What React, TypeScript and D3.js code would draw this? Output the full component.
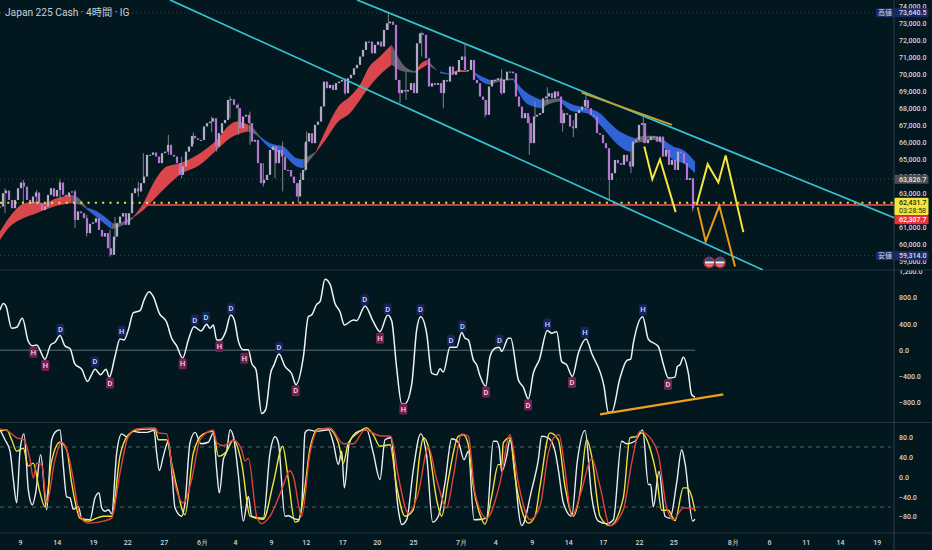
import React, { useEffect, useRef } from 'react';
import * as d3 from 'd3';

type Pt = [number, number];
type Band = [number, number, number];

const UI_FONT = 'Roboto, sans-serif';
const BG = '#03171f';

// x is counted in trading hours since the left edge of the window
const lastHour = 2682;
const timeTicks: [number, string][] = [
  [60, '9'], [170, '14'], [279, '19'], [382, '22'], [491, '27'], [606, '6月'], [705, '4'], [813, '9'],
  [917, '12'], [1027, '17'], [1130, '20'], [1239, '25'], [1383, '7月'], [1486, '4'], [1595, '9'],
  [1705, '14'], [1808, '17'], [1917, '22'], [2020, '25'], [2198, '8月'], [2307, '6'], [2417, '11'],
  [2520, '14'], [2630, '19'],
];

// price in thousands
const priceTicks = [74, 73, 72, 71, 70, 69, 68, 67, 66, 65, 64, 63, 61, 60, 59];
const highPrice = 73.6405;
const lowPrice = 59.314;
const prevClose = 63.8267;
const bidPrice = 62.4317;
const askPrice = 62.3077;

// one close every candleStep hours
const candleStep = 9;
const candleCloses = [
  62.21, 63.0, 63.15, 62.6, 62.11, 62.6, 63.29, 63.63, 63.39, 62.6, 62.41, 62.8, 63.04, 62.41, 62.01, 62.21,
  62.9, 63.29, 62.8, 63.19, 63.63, 62.9, 62.8, 63.04, 63.1, 61.42, 61.92, 61.82, 61.52, 60.64, 61.19, 61.27,
  61.52, 60.83, 60.44, 60.64, 59.75, 59.36, 60.44, 61.23, 61.62, 61.82, 61.13, 61.82, 63.0, 63.29, 63.1, 63.59,
  63.98, 65.26, 65.26, 65.4, 65.16, 64.77, 65.36, 65.45, 65.85, 65.26, 65.16, 64.77, 64.08, 64.57, 65.45, 65.75,
  66.38, 66.24, 66.14, 66.14, 66.93, 67.13, 67.22, 67.42, 65.75, 66.54, 67.13, 67.32, 68.5, 68.54, 68.21, 68.01,
  66.83, 67.52, 67.62, 67.13, 66.04, 66.14, 64.77, 63.59, 63.78, 64.08, 65.55, 65.75, 64.77, 65.55, 65.16, 64.37,
  64.37, 63.98, 63.59, 62.8, 63.78, 64.37, 66.04, 66.54, 65.95, 67.03, 67.22, 68.11, 69.58, 69.19, 69.39, 69.09,
  69.49, 69.58, 69.68, 68.9, 69.78, 69.98, 70.37, 70.57, 71.06, 71.45, 71.94, 71.94, 71.25, 71.75, 71.94, 71.65,
  72.63, 73.02, 73.12, 72.93, 69.68, 68.9, 69.09, 69.0, 69.09, 69.49, 68.9, 71.84, 72.43, 72.34, 70.96, 69.29,
  69.49, 69.39, 69.49, 68.9, 69.68, 69.58, 70.47, 69.98, 70.17, 70.86, 71.06, 70.27, 70.27, 70.86, 69.68, 69.49,
  68.7, 68.5, 67.62, 69.29, 69.68, 69.68, 69.78, 68.9, 69.68, 70.17, 70.17, 70.07, 68.7, 68.11, 67.42, 67.72,
  67.13, 65.95, 67.52, 67.62, 67.72, 68.6, 68.7, 68.9, 68.6, 69.0, 68.7, 67.13, 67.72, 67.62, 66.93, 66.83,
  67.72, 67.91, 68.11, 68.5, 68.01, 67.62, 67.52, 66.54, 66.44, 65.95, 65.65, 63.78, 64.18, 64.96, 64.77, 64.67,
  65.26, 64.87, 64.57, 66.04, 66.14, 67.03, 67.13, 65.95, 66.14, 66.34, 66.34, 66.04, 66.34, 65.16, 65.55, 64.67,
  64.96, 64.37, 65.45, 65.36, 64.77, 63.78, 63.88, 62.11,
];
// the wicks that stand out: hour, high, low
const candleWicks: [number, number, number][] = [
  [15, 63.29, 61.82], [70, 63.78, 62.41], [110, 63.19, 62.3], [180, 63.82, 62.6], [225, 63.19, 60.93],
  [260, 61.72, 60.44], [330, 60.83, 59.26], [345, 61.6, 60.24], [415, 63.68, 62.8], [430, 65.36, 63.78],
  [505, 66.44, 65.26], [545, 65.16, 63.88], [580, 66.58, 65.9], [635, 67.52, 66.6], [650, 66.93, 65.45],
  [690, 68.7, 67.42], [715, 68.3, 66.44], [750, 67.81, 65.85], [790, 64.77, 63.39], [825, 65.75, 63.88],
  [848, 66.04, 63.1], [895, 63.59, 62.41], [915, 65.95, 64.28], [902, 64.2, 63.49], [920, 66.63, 64.77],
  [1035, 69.78, 68.8], [1165, 73.61, 72.63], [1200, 69.68, 68.31], [1218, 70.17, 68.5], [1265, 72.53, 71.06],
  [1330, 69.68, 68.01], [1395, 71.75, 70.27], [1455, 68.5, 67.48], [1505, 70.31, 68.8], [1588, 67.52, 65.26],
  [1605, 68.4, 67.42], [1642, 69.25, 68.3], [1688, 67.9, 66.63], [1720, 67.3, 66.3], [1758, 68.8, 67.9],
  [1828, 64.4, 62.6], [1893, 65.55, 64.18], [1930, 67.48, 65.95], [2078, 63.4, 61.92],
];

// ribbon between the two moving averages: hour, upper, lower
const ribbonRed: Band[][] = [
  [[0, 60.74, 60.24], [30, 61.62, 61.03], [70, 62.37, 61.52], [110, 62.51, 61.82], [130, 62.41, 61.97], [170, 62.7, 62.25], [215, 62.9, 62.41]],
  [[400, 61.62, 61.58], [430, 62.41, 62.01], [460, 63.59, 62.6], [500, 64.57, 63.39], [540, 64.77, 64.08], [600, 65.36, 64.67], [650, 66.14, 65.55], [690, 67.03, 66.24], [710, 67.22, 66.44], [745, 67.03, 66.63]],
  [[948, 65.45, 65.4], [980, 66.83, 66.24], [1015, 68.11, 67.22], [1050, 68.7, 67.72], [1080, 69.39, 68.5], [1105, 70.37, 69.19], [1140, 71.06, 69.98], [1175, 71.75, 70.57]],
  [[1245, 70.17, 70.11], [1265, 70.7, 70.37], [1282, 70.86, 70.57]],
  [[1350, 70.04, 69.98], [1380, 70.27, 70.15], [1405, 70.21, 70.15]],
];
const ribbonBlue: Band[][] = [
  [[260, 62.15, 62.05], [300, 61.82, 61.42], [335, 61.27, 60.87]],
  [[780, 66.34, 66.24], [810, 65.95, 65.65], [850, 65.75, 65.26], [890, 65.06, 64.57], [910, 65.0, 64.47]],
  [[1320, 70.17, 70.07], [1350, 70.04, 69.98]],
  [[1420, 70.17, 70.11], [1445, 69.88, 69.58], [1470, 69.68, 69.39]],
  [[1540, 69.78, 69.68], [1570, 69.09, 68.5], [1600, 68.7, 68.11], [1625, 68.5, 68.01]],
  [[1680, 68.6, 68.4], [1720, 68.21, 67.81], [1760, 68.01, 67.72], [1800, 67.72, 67.03], [1830, 67.13, 66.34], [1860, 66.63, 65.75], [1890, 66.34, 65.45], [1905, 66.24, 65.95]],
  [[1985, 66.24, 65.95], [2020, 65.75, 64.96], [2050, 65.55, 64.77], [2085, 64.87, 64.18]],
];
const ribbonGrey: Band[][] = [
  [[215, 62.9, 62.41], [240, 62.64, 62.31], [260, 62.15, 62.05]],
  [[335, 61.27, 60.87], [345, 61.19, 60.93], [380, 61.42, 61.23], [400, 61.62, 61.52]],
  [[745, 67.03, 66.63], [760, 66.83, 66.54], [780, 66.34, 66.24]],
  [[910, 65.0, 64.47], [948, 65.45, 65.4]],
  [[1175, 71.75, 70.57], [1210, 70.57, 70.17], [1245, 70.17, 70.11]],
  [[1282, 70.86, 70.57], [1310, 70.27, 70.23]],
  [[1470, 69.68, 69.39], [1500, 69.72, 69.58], [1540, 69.78, 69.68]],
  [[1625, 68.5, 68.01], [1650, 68.54, 68.27], [1680, 68.6, 68.4]],
  [[1905, 66.24, 65.95], [1935, 66.38, 66.04], [1960, 66.38, 66.14], [1985, 66.24, 65.95]],
];

// drawings on the price pane
const channelUpper: Pt[] = [[1071, 74.4], [2682, 61.55]];
const channelLower: Pt[] = [[510, 74.4], [2289, 58.47]];
const resistanceLine: Pt[] = [[1745, 68.93], [2016, 67.03]];
const yellowPathA: Pt[] = [[1933, 65.75], [1957, 63.82], [1980, 65.0], [2027, 61.88]];
const yellowPathB: Pt[] = [[2090, 62.31], [2123, 64.71], [2155, 63.63], [2177, 65.22], [2230, 60.7]];
const orangePath: Pt[] = [[2093, 62.17], [2117, 60.15], [2158, 62.25], [2205, 58.67]];
const eventHours = [2128, 2160];
const eventPrice = 58.91;

// oscillator pane
const oscTicks = [1200, 800, 400, 0, -400, -800];
const oscLine: Pt[] = [
  [0, 612], [10, 713], [18, 673], [35, 334], [50, 349], [67, 486], [85, 132], [98, 66], [110, 81], [135, -137],
  [152, 81], [165, 121], [180, 223], [195, 66], [210, 25], [225, -213], [245, -289], [263, -476], [272, -400],
  [285, -289], [302, -374], [318, -289], [328, -410], [345, -96], [360, 172], [372, 157], [385, 309], [400, 572],
  [420, 602], [432, 764], [447, 891], [460, 815], [478, 562], [500, 425], [515, 182], [530, 66], [548, -121],
  [565, 157], [582, 359], [603, 293], [620, 395], [630, 334], [640, 385], [650, 157], [662, 157], [677, 283],
  [692, 536], [703, 460], [715, 142], [730, 5], [745, 5], [755, -197], [768, -299], [785, -966], [797, -906],
  [812, -349], [822, -223], [837, -56], [855, -248], [875, -359], [888, -526], [910, -106], [925, 511], [935, 536],
  [950, 698], [960, 739], [975, 1083], [990, 1007], [1005, 713], [1020, 587], [1033, 385], [1060, 460], [1070, 450],
  [1095, 673], [1120, 435], [1140, 283], [1163, 536], [1175, 450], [1190, -273], [1205, -815], [1215, -815],
  [1235, -526], [1250, 309], [1262, 511], [1280, 258], [1295, -349], [1310, -374], [1320, -283], [1330, -334],
  [1350, 46], [1370, 46], [1385, 268], [1395, 182], [1405, 157], [1420, -147], [1430, -223], [1440, -390],
  [1457, -552], [1470, -96], [1485, 30], [1498, 46], [1505, -20], [1525, 182], [1532, 182], [1555, -450],
  [1570, -562], [1585, -744], [1600, -349], [1618, -147], [1642, 299], [1655, 258], [1670, 283], [1685, -172],
  [1700, -223], [1717, -400], [1735, -46], [1758, 172], [1775, -46], [1812, -552], [1825, -946], [1835, -946],
  [1860, -425], [1880, -157], [1892, -137], [1900, 106], [1928, 511], [1945, 167], [1975, 56], [1990, -213],
  [2005, -425], [2025, -410], [2032, -248], [2040, -223], [2050, -106], [2065, -349], [2075, -678], [2085, -713],
];
const oscZeroEnd = 2085;
const oscTrend: Pt[] = [[1800, -977], [2170, -673]];
const oscLabelsHigh: [number, number, string][] = [
  [181, 314, 'D'], [285, -177, 'D'], [365, 288, 'H'], [584, 460, 'D'], [618, 501, 'D'], [693, 633, 'D'], [837, 40, 'D'],
  [1094, 769, 'D'], [1163, 627, 'D'], [1261, 617, 'D'], [1353, 152, 'D'], [1387, 369, 'D'], [1498, 152, 'D'],
  [1642, 400, 'H'], [1755, 273, 'H'], [1929, 617, 'H'],
];
const oscLabelsLow: [number, number, string][] = [
  [100, -30, 'H'], [136, -233, 'H'], [330, -501, 'D'], [548, -207, 'H'], [658, 56, 'H'], [733, -121, 'H'], [887, -617, 'D'],
  [1140, 182, 'H'], [1210, -896, 'H'], [1458, -638, 'D'], [1584, -835, 'D'], [1716, -491, 'D'], [2004, -521, 'D'],
];

// stochastic pane
const stochTicks = [80, 40, 0, -40, -80];
const stochBands = [60.5, -60.5];
const stochK: Pt[] = [
  [0, 95], [15, 75], [30, 52], [40, -5], [50, -52], [60, 52], [72, 87], [85, -26], [97, -56], [107, -32], [122, 45], [140, -66],
  [155, 75], [170, 93], [180, 95], [190, 22], [200, -40], [210, -42], [220, -65], [235, -60], [245, -84], [270, -86], [285, -42],
  [297, -32], [305, -62], [315, -69], [325, -66], [335, -74], [350, 48], [365, 87], [380, 81], [400, 92], [420, 90], [440, 90],
  [462, 94], [470, 48], [478, 13], [490, 42], [505, 72], [515, 15], [525, -62], [545, -79], [555, -52], [570, 69], [585, 90],
  [603, 67], [625, 70], [640, 89], [650, 15], [658, -32], [670, 35], [680, 52], [690, 95], [700, 82], [715, 5], [730, -89],
  [745, -39], [755, -79], [790, -83], [810, 48], [825, 81], [835, 69], [855, -79], [865, -78], [880, -83], [895, -86], [905, -59],
  [915, 89], [925, 95], [950, 92], [985, 95], [1000, 69], [1015, 25], [1025, 52], [1033, -22], [1048, 69], [1075, 92], [1100, 95],
  [1120, 48], [1140, -5], [1155, 75], [1172, 79], [1195, -66], [1205, -96], [1220, -86], [1240, 15], [1262, 87], [1280, 42],
  [1298, -91], [1315, -79], [1335, -12], [1355, 77], [1375, 70], [1392, 35], [1405, 52], [1422, -86], [1445, -85], [1460, -83],
  [1480, 72], [1490, 72], [1498, 58], [1505, 11], [1520, 42], [1530, 75], [1565, -98], [1595, -26], [1615, 35], [1625, 82],
  [1645, 79], [1665, 52], [1675, 15], [1690, -52], [1715, -79], [1732, 32], [1755, 94], [1775, -39], [1795, -89], [1820, -94],
  [1840, -86], [1865, 72], [1880, 67], [1905, 72], [1928, 95], [1945, -15], [1952, -15], [1960, -60], [1977, 11], [1995, -79],
  [2010, -83], [2030, -12], [2045, 55], [2055, 28], [2078, -89], [2085, -85],
];
const stochD: Pt[] = [
  [0, 92], [20, 95], [35, 75], [50, 52], [70, 58], [85, 22], [100, 28], [118, -26], [135, -60], [155, 32], [180, 70], [200, 55],
  [215, -12], [240, -83], [265, -89], [285, -84], [310, -79], [335, -79], [360, 42], [385, 85], [410, 95], [465, 97], [475, 75],
  [500, 75], [515, 28], [530, -19], [555, -76], [580, 48], [610, 87], [640, 92], [655, 42], [680, 52], [700, 75], [725, 28],
  [750, -79], [790, -85], [820, -12], [848, 62], [865, -5], [885, -91], [895, -89], [915, -19], [930, 58], [955, 97], [985, 97],
  [1015, 69], [1030, 28], [1045, 69], [1075, 90], [1100, 99], [1120, 85], [1140, 62], [1170, 65], [1190, -19], [1215, -79],
  [1240, -66], [1260, 48], [1270, 79], [1285, 62], [1310, -46], [1325, -79], [1345, -5], [1375, 82], [1390, 85], [1405, 65],
  [1420, -19], [1440, -76], [1455, -95], [1475, -39], [1495, 25], [1505, 25], [1510, 69], [1530, 79], [1545, 1], [1565, -66],
  [1585, -93], [1605, -79], [1620, -19], [1650, 89], [1675, 75], [1695, -19], [1720, -79], [1740, -32], [1760, 75], [1775, 42],
  [1800, -79], [1830, -98], [1870, -42], [1890, 79], [1910, 82], [1925, 89], [1950, 58], [1970, 1], [1985, -67], [2005, -67],
  [2025, -88], [2050, -22], [2060, -22], [2075, -39], [2085, -69],
];
const stochSlow: Pt[] = [
  [0, 97], [25, 92], [50, 79], [72, 75], [90, 35], [100, -2], [110, 28], [125, 25], [140, -52], [165, 35], [185, 70], [205, 45],
  [220, -5], [240, -79], [265, -93], [310, -89], [335, -83], [360, 8], [385, 82], [410, 97], [465, 99], [475, 89], [500, 87],
  [520, 1], [550, -52], [575, -5], [600, 75], [640, 95], [650, 69], [670, 63], [700, 74], [725, 55], [735, 32], [745, 38],
  [770, -79], [785, -94], [810, -79], [845, -26], [870, 13], [880, 1], [905, -79], [930, 48], [955, 95], [990, 99], [1030, 67],
  [1060, 67], [1095, 95], [1140, 83], [1172, 82], [1195, 1], [1225, -73], [1255, -32], [1285, 60], [1310, -5], [1340, -62],
  [1360, 1], [1385, 87], [1405, 82], [1425, -32], [1460, -83], [1500, -12], [1530, 85], [1555, -12], [1590, -86], [1620, -59],
  [1645, 48], [1665, 82], [1677, 85], [1695, 15], [1715, -79], [1745, -26], [1775, 38], [1800, -19], [1830, -98], [1870, -66],
  [1895, 28], [1920, 92], [1955, 75], [1975, 45], [2000, -62], [2020, -86], [2050, -62], [2085, -65],
];

const App: React.FC = () => {
  const svgRef = useRef<SVGSVGElement | null>(null);

  useEffect(() => {
    if (!svgRef.current) return;
    const width = 932;
    const height = 550;
    const axisX = 894;
    const mainBottom = 270;
    const oscBottom = 422.5;
    const stochBottom = 533;
    const labelSize = 7;

    const svg = d3.select(svgRef.current);
    svg.selectAll('*').remove();
    svg.attr('width', width).attr('height', height).style('display', 'block');
    svg.append('rect').attr('width', width).attr('height', height).attr('fill', BG);

    const x = d3.scaleLinear().domain([0, lastHour]).range([0, axisX]);
    const yPrice = d3.scaleLinear().domain([74, 60]).range([6.7, 244]);
    const yOsc = d3.scaleLinear().domain([800, -800]).range([297.7, 402.7]);
    const yStoch = d3.scaleLinear().domain([80, -80]).range([437.3, 516.7]);

    const styleAxis = (g: d3.Selection<SVGGElement, unknown, null, undefined>) => {
      g.select('.domain').remove();
      g.selectAll('.tick line').remove();
      g.selectAll('text')
        .attr('fill', '#cfd6da')
        .attr('font-family', UI_FONT)
        .attr('font-size', labelSize)
        .attr('font-weight', 500);
    };

    // oscillator axis goes first so the price pane can cover the top label
    svg.append('g').attr('transform', `translate(${axisX + 2},0)`)
      .call(d3.axisRight(yOsc).tickValues(oscTicks).tickSize(0).tickPadding(3).tickFormat(d => d3.format(',.1f')(+d).replace('-', '−')))
      .call(styleAxis);

    svg.append('rect').attr('width', width).attr('height', mainBottom).attr('fill', BG);

    svg.append('g').attr('transform', `translate(${axisX + 2},0)`)
      .call(d3.axisRight(yPrice).tickValues(priceTicks).tickSize(0).tickPadding(3).tickFormat(d => d3.format(',.1f')(+d * 1000)))
      .call(styleAxis);

    svg.append('g').attr('transform', `translate(${axisX + 2},0)`)
      .call(d3.axisRight(yStoch).tickValues(stochTicks).tickSize(0).tickPadding(3).tickFormat(d => d3.format('.1f')(+d).replace('-', '−')))
      .call(styleAxis);

    svg.append('g').attr('transform', `translate(0,${stochBottom + 4})`)
      .call(d3.axisBottom(x).tickValues(timeTicks.map(d => d[0])).tickSize(0)
        .tickFormat(d => timeTicks.find(t => t[0] === +d)![1]))
      .call(styleAxis);

    // pane borders
    const border = '#22353e';
    [mainBottom, oscBottom, stochBottom].forEach(yy => {
      svg.append('line').attr('x1', 0).attr('x2', width).attr('y1', yy).attr('y2', yy)
        .attr('stroke', border).attr('stroke-width', 1);
    });
    svg.append('line').attr('x1', axisX).attr('x2', axisX).attr('y1', 0).attr('y2', height)
      .attr('stroke', '#2c3f49').attr('stroke-width', 1);

    // dotted price markers
    [highPrice, lowPrice, prevClose].forEach(p => {
      svg.append('line').attr('x1', 0).attr('x2', axisX).attr('y1', yPrice(p)).attr('y2', yPrice(p))
        .attr('stroke', '#40525a').attr('stroke-width', 0.8).attr('stroke-dasharray', '1 3');
    });

    // ribbon
    const bandArea = d3.area<Band>()
      .x(d => x(d[0]))
      .y0(d => yPrice(d[2]))
      .y1(d => yPrice(d[1]))
      .curve(d3.curveMonotoneX);
    const drawBands = (bands: Band[][], color: string) => {
      svg.append('g').selectAll('path').data(bands).enter().append('path')
        .attr('d', d => bandArea(d))
        .attr('fill', color);
    };
    drawBands(ribbonGrey, '#5d6266');
    drawBands(ribbonRed, '#d9474c');
    drawBands(ribbonBlue, '#2f63d6');

    // horizontal levels
    svg.append('line').attr('x1', x(430)).attr('x2', axisX).attr('y1', yPrice(askPrice)).attr('y2', yPrice(askPrice))
      .attr('stroke', '#b8433f').attr('stroke-width', 2);

    // candles
    const candleG = svg.append('g');
    candleG.selectAll('line').data(candleWicks).enter().append('line')
      .attr('x1', d => x(d[0])).attr('x2', d => x(d[0]))
      .attr('y1', d => yPrice(d[1])).attr('y2', d => yPrice(d[2]))
      .attr('stroke', '#8f9197').attr('stroke-width', 0.9);
    candleG.selectAll('rect').data(candleCloses).enter().append('rect')
      .attr('x', (_, i) => x(i * candleStep) - 1.1)
      .attr('width', 2.2)
      .attr('y', (d, i) => yPrice(Math.max(d, i ? candleCloses[i - 1] : d)))
      .attr('height', (d, i) => Math.max(1, Math.abs(yPrice(d) - yPrice(i ? candleCloses[i - 1] : d))))
      .attr('fill', (d, i) => (i && d < candleCloses[i - 1] ? '#b873d8' : '#b3abc6'));

    svg.append('line').attr('x1', 0).attr('x2', axisX).attr('y1', yPrice(bidPrice)).attr('y2', yPrice(bidPrice))
      .attr('stroke', '#ece445').attr('stroke-width', 2).attr('stroke-dasharray', '2 5.3');

    // drawings
    const priceLine = d3.line<Pt>().x(d => x(d[0])).y(d => yPrice(d[1]));
    const drawPrice = (pts: Pt[], color: string, w: number) => {
      svg.append('path').attr('d', priceLine(pts)).attr('fill', 'none')
        .attr('stroke', color).attr('stroke-width', w).attr('stroke-linejoin', 'miter');
    };
    const clipId = 'main-clip';
    svg.append('clipPath').attr('id', clipId).append('rect').attr('width', axisX).attr('height', mainBottom);
    const channelG = svg.append('g').attr('clip-path', `url(#${clipId})`);
    [channelUpper, channelLower].forEach(c => {
      channelG.append('path').attr('d', priceLine(c)).attr('fill', 'none')
        .attr('stroke', '#35c3cf').attr('stroke-width', 1.7);
    });
    drawPrice(resistanceLine, '#c9a02a', 2);
    drawPrice(yellowPathA, '#f4e63c', 2);
    drawPrice(yellowPathB, '#f4e63c', 2);
    drawPrice(orangePath, '#e89a1c', 2);

    // US event flags
    eventHours.forEach((h, i) => {
      const cx = x(h);
      const cy = yPrice(eventPrice);
      const id = `flag-${i}`;
      svg.append('clipPath').attr('id', id).append('circle').attr('cx', cx).attr('cy', cy).attr('r', 4.8);
      const f = svg.append('g');
      const inner = f.append('g').attr('clip-path', `url(#${id})`);
      inner.append('rect').attr('x', cx - 5).attr('y', cy - 5).attr('width', 10).attr('height', 10).attr('fill', '#eef0f2');
      inner.append('rect').attr('x', cx - 5).attr('y', cy - 5).attr('width', 10).attr('height', 4).attr('fill', '#2e4c8c');
      inner.append('rect').attr('x', cx - 5).attr('y', cy + 1).attr('width', 10).attr('height', 1.3).attr('fill', '#c9363f');
      inner.append('rect').attr('x', cx - 5).attr('y', cy + 3).attr('width', 10).attr('height', 1.3).attr('fill', '#c9363f');
      f.append('circle').attr('cx', cx).attr('cy', cy).attr('r', 5.3).attr('fill', 'none')
        .attr('stroke', '#a52a36').attr('stroke-width', 1.4);
    });

    // oscillator pane
    svg.append('line').attr('x1', 0).attr('x2', x(oscZeroEnd)).attr('y1', yOsc(0)).attr('y2', yOsc(0))
      .attr('stroke', '#5f7d80').attr('stroke-width', 0.9);
    const oscPath = d3.line<Pt>().x(d => x(d[0])).y(d => yOsc(d[1])).curve(d3.curveMonotoneX);
    svg.append('path').attr('d', oscPath(oscLine)).attr('fill', 'none')
      .attr('stroke', '#eef3f5').attr('stroke-width', 1.5);
    svg.append('path').attr('d', oscPath(oscTrend)).attr('fill', 'none')
      .attr('stroke', '#eca21e').attr('stroke-width', 2.2);

    const drawOscLabels = (labels: [number, number, string][], bg: string, fg: string) => {
      const g = svg.append('g').selectAll('g').data(labels).enter().append('g')
        .attr('transform', d => `translate(${x(d[0])},${yOsc(d[1])})`);
      g.append('rect').attr('x', -4).attr('y', -5.5).attr('width', 8).attr('height', 11).attr('rx', 1.5).attr('fill', bg);
      g.append('text').attr('text-anchor', 'middle').attr('dy', '0.35em').attr('fill', fg)
        .attr('font-family', UI_FONT).attr('font-size', 7.5).attr('font-weight', 500).text(d => d[2]);
    };
    drawOscLabels(oscLabelsHigh, '#16245c', '#cfd8f5');
    drawOscLabels(oscLabelsLow, '#74204f', '#f1dbe6');

    // stochastic pane
    stochBands.forEach(b => {
      svg.append('line').attr('x1', 0).attr('x2', axisX - 3).attr('y1', yStoch(b)).attr('y2', yStoch(b))
        .attr('stroke', '#54706f').attr('stroke-width', 0.9).attr('stroke-dasharray', '4 4');
    });
    const stochPath = d3.line<Pt>().x(d => x(d[0])).y(d => yStoch(d[1])).curve(d3.curveMonotoneX);
    const drawStoch = (pts: Pt[], color: string) => {
      svg.append('path').attr('d', stochPath(pts)).attr('fill', 'none')
        .attr('stroke', color).attr('stroke-width', 1.4).attr('stroke-linejoin', 'round');
    };
    drawStoch(stochK, '#e9eef2');
    drawStoch(stochD, '#f0e33a');
    drawStoch(stochSlow, '#e2413f');

    // tags on the price axis
    const tag = (p: number, txt: string, bg: string, fg: string, h = 9) => {
      svg.append('rect').attr('x', axisX + 0.5).attr('y', yPrice(p) - h / 2).attr('width', 34).attr('height', h)
        .attr('rx', 1).attr('fill', bg);
      svg.append('text').attr('x', axisX + 5).attr('y', yPrice(p)).attr('dy', '0.35em').attr('fill', fg)
        .attr('font-family', UI_FONT).attr('font-size', labelSize).attr('font-weight', 500).text(txt);
    };
    const sideTag = (p: number, txt: string) => {
      svg.append('rect').attr('x', axisX - 18).attr('y', yPrice(p) - 4.5).attr('width', 18).attr('height', 9)
        .attr('rx', 1).attr('fill', '#1a2b63');
      svg.append('text').attr('x', axisX - 9).attr('y', yPrice(p)).attr('dy', '0.35em').attr('text-anchor', 'middle')
        .attr('fill', '#d6dcec').attr('font-family', '"Noto Sans CJK JP", sans-serif').attr('font-size', labelSize).text(txt);
    };
    tag(highPrice, '73,640.5', '#1a2b63', '#d6dcec');
    sideTag(highPrice, '高値');
    tag(lowPrice, '59,314.0', '#1a2b63', '#d6dcec');
    sideTag(lowPrice, '安値');
    tag(prevClose, '63,826.7', '#4b4f52', '#e4e6e8');
    // current price with countdown
    svg.append('rect').attr('x', axisX + 0.5).attr('y', yPrice(bidPrice) - 5).attr('width', 34).attr('height', 17.5)
      .attr('rx', 1).attr('fill', '#f4e63c');
    svg.append('text').attr('x', axisX + 5).attr('y', yPrice(bidPrice) - 0.2).attr('dy', '0.35em').attr('fill', '#26261a')
      .attr('font-family', UI_FONT).attr('font-size', labelSize).attr('font-weight', 500).text('62,431.7');
    svg.append('text').attr('x', axisX + 5).attr('y', yPrice(bidPrice) + 7.6).attr('dy', '0.35em').attr('fill', '#26261a')
      .attr('font-family', UI_FONT).attr('font-size', labelSize).text('03:28:58');
    svg.append('rect').attr('x', axisX + 0.5).attr('y', yPrice(bidPrice) + 12.5).attr('width', 34).attr('height', 9)
      .attr('rx', 1).attr('fill', '#e8333f');
    svg.append('text').attr('x', axisX + 5).attr('y', yPrice(bidPrice) + 17).attr('dy', '0.35em').attr('fill', '#fff')
      .attr('font-family', UI_FONT).attr('font-size', labelSize).attr('font-weight', 500).text('62,307.7');

    svg.append('text').attr('x', 5).attr('y', 12).attr('dy', '0.35em').attr('fill', '#c9d0d6')
      .attr('font-family', UI_FONT + ', "Noto Sans CJK JP"').attr('font-size', 10.2)
      .text('Japan 225 Cash · 4時間 · IG');
  }, []);

  return (
    <div style={{ position: 'fixed', left: 0, top: 0 }}>
      <svg ref={svgRef}></svg>
    </div>
  );
};

export default App;
